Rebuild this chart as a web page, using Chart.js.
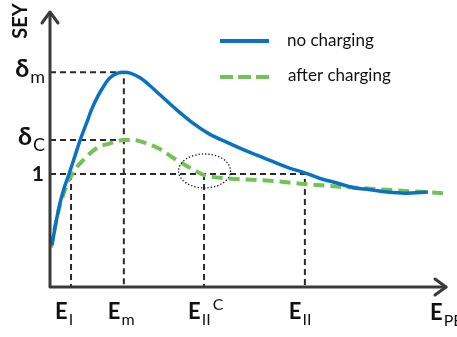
<!DOCTYPE html>
<html>
<head>
<meta charset="utf-8">
<script src="https://cdn.jsdelivr.net/npm/chart.js@4/dist/chart.umd.min.js"></script>
<style>
  body { margin: 0; background: #fff; }
  canvas { display: block; }
</style>
</head>
<body>
<canvas id="seyChart" width="457" height="337"></canvas>
<script>
// energie primaire (unités arbitraires) et rendement SEY
const noChargingE = [0.5, 1.5, 2.5, 3.5, 4.8, 6.3, 7.6, 9.1, 10.6, 12.1, 13.6, 15.1, 16.9, 18.6, 20.4, 22.7, 25.2, 27.7, 31.5, 36.0, 40.3, 44.6, 50.4, 55.4, 60.5, 64.2, 68.0, 72.3, 76.3, 80.6, 84.9, 89.4, 95.2];
const noChargingSEY = [0.37, 0.57, 0.74, 0.87, 1.0, 1.16, 1.30, 1.44, 1.58, 1.69, 1.78, 1.85, 1.89, 1.90, 1.89, 1.85, 1.78, 1.70, 1.58, 1.45, 1.35, 1.28, 1.19, 1.12, 1.05, 1.01, 0.96, 0.92, 0.88, 0.86, 0.84, 0.83, 0.84];

const afterChargingE = [0.25, 1.3, 2.5, 3.8, 5.0, 6.3, 8.3, 11.8, 15.1, 18.4, 20.9, 24.4, 27.7, 30.7, 34.0, 36.5, 38.8, 44.6, 55.4, 64.2, 76.3, 84.9, 99.0];
const afterChargingSEY = [0.35, 0.54, 0.72, 0.86, 0.96, 1.04, 1.12, 1.23, 1.27, 1.30, 1.30, 1.27, 1.22, 1.15, 1.08, 1.03, 0.99, 0.96, 0.94, 0.91, 0.88, 0.86, 0.83];

// repères : E_I, E_m, E_II^C, E_II et δ_C, δ_m
const energyTicks = [5.3, 18.6, 38.8, 64.2];
const energyLabels = [["E", "I", ""], ["E", "m", ""], ["E", "II", "C"], ["E", "II", ""]];
const yieldTicks = [1, 1.30, 1.90];
const yieldLabels = [["1", ""], ["δ", "C"], ["δ", "m"]];

const E_I = energyTicks[0], E_m = energyTicks[1], E_IIC = energyTicks[2], E_II = energyTicks[3];
const deltaC = yieldTicks[1], deltaM = yieldTicks[2];

function toPoints(xs, ys) {
  return xs.map((x, i) => ({ x: x, y: ys[i] }));
}

function guide(points) {
  return {
    data: points,
    borderColor: "#2a2a2a",
    borderWidth: 2,
    borderDash: [6, 4],
    pointRadius: 0,
    tension: 0,
    order: 5,
  };
}

// texte avec indice / exposant
function drawLabel(ctx, main, sub, sup, x, y, size, align) {
  const small = Math.round(size * 0.72) + "px Lato";
  ctx.font = "bold " + size + "px Lato";
  const mw = ctx.measureText(main).width;
  ctx.font = small;
  const sw = ctx.measureText(sub).width;
  let left = x;
  if (align === "right") left = x - mw - sw;
  ctx.textAlign = "left";
  ctx.textBaseline = "alphabetic";
  ctx.fillStyle = "#111";
  ctx.font = "bold " + size + "px Lato";
  ctx.fillText(main, left, y);
  ctx.font = small;
  if (sub) ctx.fillText(sub, left + mw + 1, y + size * 0.25);
  if (sup) ctx.fillText(sup, left + mw + sw + 3, y - size * 0.42);
}

const sketchPlugin = {
  id: "sketch",
  afterDatasetsDraw(chart) {
    const ctx = chart.ctx;
    const xs = chart.scales.x, ys = chart.scales.y;
    const x0 = xs.getPixelForValue(0), y0 = ys.getPixelForValue(0);
    ctx.save();

    // ellipse pointillée autour du coude
    ctx.strokeStyle = "#111";
    ctx.lineWidth = 1.3;
    ctx.setLineDash([1.3, 2]);
    ctx.beginPath();
    ctx.ellipse(xs.getPixelForValue(E_IIC) + 0.5, ys.getPixelForValue(1) - 3, 26, 17, 0, 0, Math.PI * 2);
    ctx.stroke();
    ctx.setLineDash([]);

    // axes avec flèches
    ctx.strokeStyle = "#3a3a3a";
    ctx.lineWidth = 3;
    ctx.lineCap = "round";
    ctx.lineJoin = "round";
    ctx.beginPath();
    ctx.moveTo(x0, 13);
    ctx.lineTo(x0, y0);
    ctx.lineTo(446, y0);
    ctx.stroke();
    ctx.beginPath();
    ctx.moveTo(x0 - 8, 23);
    ctx.lineTo(x0, 12);
    ctx.lineTo(x0 + 8, 23);
    ctx.moveTo(435, y0 - 8);
    ctx.lineTo(446, y0);
    ctx.lineTo(435, y0 + 8);
    ctx.stroke();

    // légende
    ctx.lineCap = "butt";
    ctx.strokeStyle = chart.data.datasets[0].borderColor;
    ctx.lineWidth = 4;
    ctx.beginPath();
    ctx.moveTo(220, 41);
    ctx.lineTo(269, 41);
    ctx.stroke();
    ctx.strokeStyle = chart.data.datasets[1].borderColor;
    ctx.setLineDash([13, 5]);
    ctx.beginPath();
    ctx.moveTo(220, 77);
    ctx.lineTo(269, 77);
    ctx.stroke();
    ctx.setLineDash([]);
    ctx.fillStyle = "#111";
    ctx.font = "17px Lato";
    ctx.textBaseline = "middle";
    ctx.fillText(chart.data.datasets[0].label, 287, 41);
    ctx.fillText(chart.data.datasets[1].label, 288, 76);

    // titres des axes
    ctx.save();
    ctx.translate(21, 21);
    ctx.rotate(-Math.PI / 2);
    ctx.textAlign = "center";
    ctx.textBaseline = "middle";
    ctx.font = "bold 20px Lato";
    ctx.fillText("SEY", 0, 0);
    ctx.restore();
    drawLabel(ctx, "E", "PE", "", 430, 320, 22, "left");

    // étiquettes des repères
    energyTicks.forEach((v, i) => {
      const px = xs.getPixelForValue(v);
      const l = energyLabels[i];
      drawLabel(ctx, l[0], l[1], l[2], px - 16, 319, 22, "left");
    });
    yieldTicks.forEach((v, i) => {
      const py = ys.getPixelForValue(v);
      const l = yieldLabels[i];
      const size = l[1] ? 25 : 21;
      drawLabel(ctx, l[0], l[1], "", 44, py + (l[1] ? 5 : 7), size, "right");
    });
    ctx.restore();
  },
};

new Chart(document.getElementById("seyChart"), {
  type: "line",
  data: {
    datasets: [
      {
        label: "no charging",
        data: toPoints(noChargingE, noChargingSEY),
        borderColor: "#0a72c2",
        borderWidth: 3.5,
        pointRadius: 0,
        cubicInterpolationMode: "monotone",
        order: 1,
      },
      {
        label: "after charging",
        data: toPoints(afterChargingE, afterChargingSEY),
        borderColor: "#74c158",
        borderWidth: 4,
        borderDash: [11, 6],
        pointRadius: 0,
        cubicInterpolationMode: "monotone",
        order: 2,
      },
      guide([{ x: 0, y: deltaM }, { x: E_m, y: deltaM }, { x: E_m, y: 0 }]),
      guide([{ x: 0, y: deltaC }, { x: E_m, y: deltaC }]),
      guide([{ x: 0, y: 1 }, { x: E_II, y: 1 }, { x: E_II, y: 0 }]),
      guide([{ x: E_I, y: 1 }, { x: E_I, y: 0 }]),
      guide([{ x: E_IIC, y: 1 }, { x: E_IIC, y: 0 }]),
    ],
  },
  options: {
    responsive: false,
    animation: false,
    layout: { padding: { left: 50, top: 10, right: 10, bottom: 50 } },
    plugins: {
      legend: { display: false },
      tooltip: { enabled: false },
    },
    scales: {
      x: { type: "linear", min: 0, max: 100, display: false },
      y: { min: 0, max: 2.45, display: false },
    },
  },
  plugins: [sketchPlugin],
});
</script>
</body>
</html>
